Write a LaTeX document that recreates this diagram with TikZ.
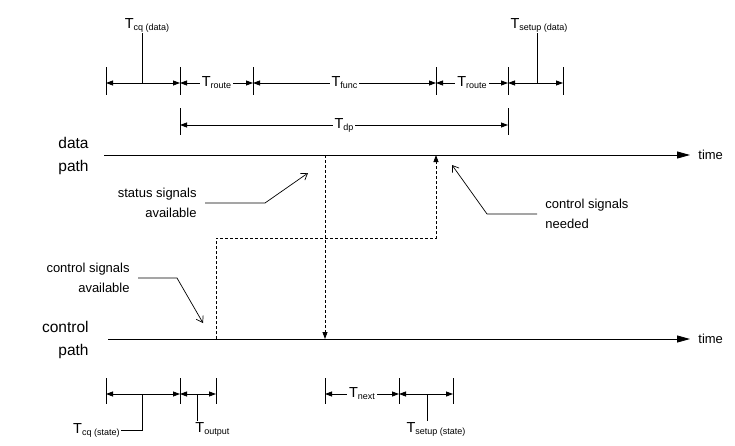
\documentclass[tikz,border=0pt]{standalone}
\usepackage{fontspec}
\setmainfont{Liberation Sans}
\usetikzlibrary{arrows.meta, positioning, calc}

\newcommand{\Tlab}[1]{T\raisebox{-2pt}{\fontsize{9}{9}\selectfont #1}}

\begin{document}
\begin{tikzpicture}[
  x=1pt, y=-1pt,
  line width=0.8pt,
  dim/.style     = {{Triangle[length=7pt,width=5pt]}-{Triangle[length=7pt,width=5pt]}},
  axis/.style    = {-{Triangle[length=13pt,width=7pt]}},
  signal/.style  = {dash pattern=on 3pt off 2pt, -{Triangle[length=7pt,width=5pt]}},
  pointer/.style = {-{Straight Barb[length=6pt,width=8pt]}, line width=0.7pt},
  tlab/.style    = {font=\fontsize{14.5}{15}\selectfont, inner sep=1pt},
  onl/.style     = {tlab, fill=white, inner xsep=2pt, inner ysep=0pt},
  note/.style    = {font=\fontsize{13}{20}\selectfont, inner xsep=8pt, inner ysep=0pt},
  pathlbl/.style = {font=\fontsize{15.5}{23}\selectfont, align=right, inner sep=0pt}
]
\useasboundingbox (0,0) rectangle (735,445);

% ── Tick coordinates ──────────────────────────────────────────────────────────
\foreach \n/\x in {ta/106, tb/180, tc/253, td/436, te/508, tf/563}
  \coordinate (\n) at (\x,83);
\foreach \n/\x in {pa/180, pb/508}
  \coordinate (\n) at (\x,125);
\foreach \n/\x in {ba/106, bb/180, bc/216, bd/325, be/399, bf/453}
  \coordinate (\n) at (\x,394);

\foreach \n in {ta,tb,tc,td,te,tf}
  \draw ($(\n)+(0,-16)$) -- ($(\n)+(0,12)$);
\foreach \n in {pa,pb}
  \draw ($(\n)+(0,-17)$) -- ($(\n)+(0,10)$);
\foreach \n in {ba,bb,bc,bd,be,bf}
  \draw ($(\n)+(0,-16)$) -- ($(\n)+(0,10)$);

% ── Dimension arrows ──────────────────────────────────────────────────────────
\foreach \s/\t in {ta/tb, te/tf, ba/bb, bb/bc, be/bf}
  \draw[dim] (\s) -- (\t);
\foreach \s/\t/\l in {tb/tc/route, tc/td/func, td/te/route, pa/pb/dp, bd/be/next}
  \draw[dim] (\s) -- node[onl] {\Tlab{\l}} (\t);

% ── Timing labels with leaders ────────────────────────────────────────────────
\node[tlab] (cqd) at (147,25) {\Tlab{cq (data)}};
\coordinate (cqdm) at (142,83);
\draw (cqdm) -- (cqdm |- cqd.south);

\node[tlab] (sud) at (539,25) {\Tlab{setup (data)}};
\coordinate (sudm) at (537,83);
\draw (sudm) -- (sudm |- sud.south);

\node[tlab, anchor=east] (cqs) at (121,430) {\Tlab{cq (state)}};
\coordinate (cqsm) at (142,394);
\draw (cqsm) |- (cqs.east);

\node[tlab, anchor=north west] (tout) at (194,421) {\Tlab{output}};
\coordinate (toutm) at (197,394);
\draw (toutm) -- (toutm |- tout.north);

\node[tlab, anchor=north] (sus) at (436,421) {\Tlab{setup (state)}};
\coordinate (susm) at (427,394);
\draw (susm) -- (susm |- sus.north);

% ── Paths ─────────────────────────────────────────────────────────────────────
\node[pathlbl, anchor=east] (dlbl) at (89,156) {data\\path};
\coordinate (ds) at (104,155);
\node[note, anchor=west] (dtime) at (690,155) {time};
\draw[axis] (ds) -- (dtime.west);

\node[pathlbl, anchor=east] (clbl) at (89,340) {control\\path};
\coordinate (cs) at (108,339);
\node[note, anchor=west] (ctime) at (690,339) {time};
\draw[axis] (cs) -- (ctime.west);

% ── Signals ───────────────────────────────────────────────────────────────────
\coordinate (stout) at (325,155);
\coordinate (stin)  at (325,339);
\draw[signal] (stout) -- (stin);

\coordinate (ctout) at (216,339);
\coordinate (ctknee) at (436,238);
\coordinate (ctin)  at (436,155);
\draw[signal] (ctout) |- (ctknee) -- (ctin);

% ── Callouts ──────────────────────────────────────────────────────────────────
\node[note, align=right, anchor=east] (stat) at (205,203) {status signals\\available};
\coordinate (statk) at (265,203);
\coordinate (statp) at (308,173);
\draw[pointer] (stat.east) -- (statk) -- (statp);

\node[note, align=left, anchor=west] (need) at (537,214) {control signals\\needed};
\coordinate (needk) at (487,214);
\coordinate (needp) at (452,165);
\draw[pointer] (need.west) -- (needk) -- (needp);

\node[note, align=right, anchor=east] (cavl) at (138,278) {control signals\\available};
\coordinate (cavk) at (177,278);
\coordinate (cavp) at (203,323);
\draw[pointer] (cavl.east) -- (cavk) -- (cavp);

\end{tikzpicture}
\end{document}
